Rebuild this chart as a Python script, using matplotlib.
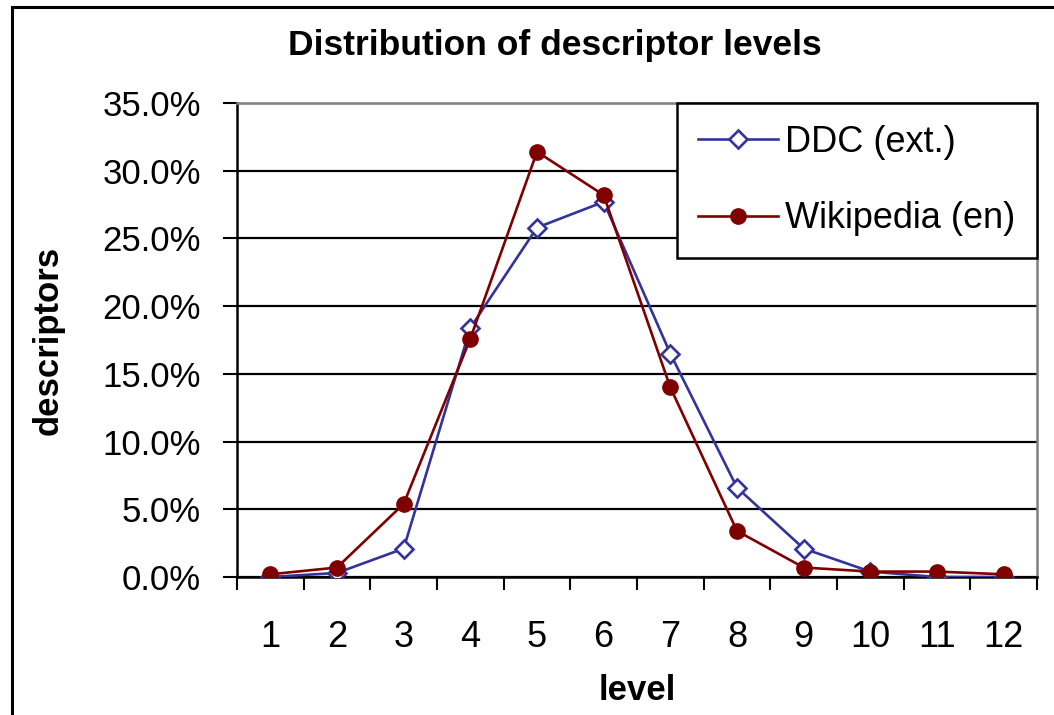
import matplotlib
matplotlib.use('Agg')
import matplotlib.pyplot as plt
from matplotlib.patches import Rectangle
from matplotlib.ticker import FixedLocator, FuncFormatter, NullFormatter
import numpy as np

plt.rcParams['font.family'] = ['Liberation Sans', 'DejaVu Sans']

levels = [1, 2, 3, 4, 5, 6, 7, 8, 9, 10, 11, 12]
level_labels = [str(v) for v in levels]
ddc_ext = [0.0, 0.3, 2.1, 18.4, 25.8, 27.7, 16.5, 6.6, 2.1, 0.4, 0.0, 0.0]
wiki_en = [0.2, 0.7, 5.4, 17.6, 31.4, 28.2, 14.0, 3.4, 0.7, 0.4, 0.4, 0.2]
y_ticks = [0, 5, 10, 15, 20, 25, 30, 35]

blue = '#333399'
red = '#800000'

fig = plt.figure(figsize=(10.54, 7.15), dpi=100)
ax = fig.add_axes([237 / 1054, 1 - 577 / 715, 800 / 1054, 474 / 715])

ax.plot(levels, ddc_ext, color=blue, linewidth=1.9, marker='D', markersize=9,
        markerfacecolor='white', markeredgecolor=blue, markeredgewidth=1.9,
        label='DDC (ext.)', zorder=3)
ax.plot(levels, wiki_en, color=red, linewidth=1.9, marker='o', markersize=11,
        markerfacecolor=red, markeredgecolor=red, label='Wikipedia (en)', zorder=4)

ax.set_xlim(0.5, 12.5)
ax.set_ylim(0, 35)

# category boundaries as major ticks, labels on minor ticks at centres
ax.xaxis.set_major_locator(FixedLocator(np.arange(0.5, 13, 1)))
ax.xaxis.set_major_formatter(NullFormatter())
ax.xaxis.set_minor_locator(FixedLocator(levels))
ax.xaxis.set_minor_formatter(FuncFormatter(lambda v, p: level_labels[int(round(v)) - 1]))
ax.tick_params(axis='x', which='major', direction='out', length=9, width=1.5, color='black')
ax.tick_params(axis='x', which='minor', length=0, pad=31, labelsize=26)

ax.set_yticks(y_ticks)
ax.yaxis.set_major_formatter(FuncFormatter(lambda v, p: '%.1f%%' % v))
ax.tick_params(axis='y', direction='out', length=10, width=1.5, pad=16, labelsize=25)

ax.grid(axis='y', color='black', linewidth=1.6)
ax.set_axisbelow(True)

for s in ['left', 'bottom']:
    ax.spines[s].set_color('black')
    ax.spines[s].set_linewidth(1.8)
for s in ['top', 'right']:
    ax.spines[s].set_color('#808080')
    ax.spines[s].set_linewidth(1.8)

ax.set_ylabel('descriptors', fontsize=25, fontweight='bold', labelpad=27)
ax.set_xlabel('level', fontsize=25, fontweight='bold', labelpad=14)

fig.text(555 / 1054, 1 - 55 / 715, 'Distribution of descriptor levels',
         fontsize=25.5, fontweight='bold', ha='center', va='baseline')

leg = ax.legend(loc='upper right', bbox_to_anchor=(1, 1), borderaxespad=0,
                fontsize=26, fancybox=False, framealpha=1, edgecolor='black',
                handlelength=2.2, handletextpad=0.2, labelspacing=1.15,
                borderpad=0.6)
leg.get_frame().set_linewidth(1.8)

# outer chart border, cut off at right and bottom like the reference
fig.patches.append(Rectangle((12 / 1054, -0.1), 1.2, 1.1 - 7 / 715,
                             transform=fig.transFigure, fill=False,
                             edgecolor='black', linewidth=2.2))

fig.savefig('out.png', dpi=100)
